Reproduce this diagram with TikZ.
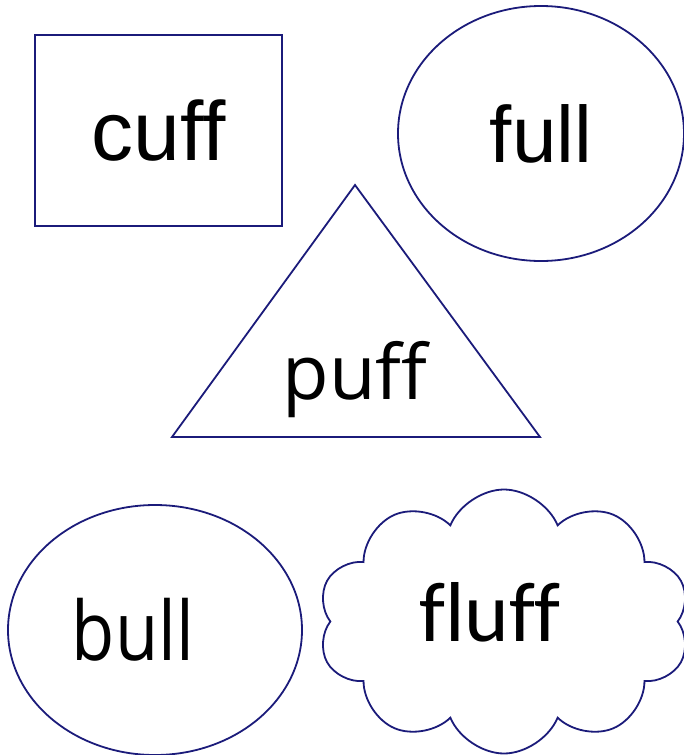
\documentclass[tikz,border=0pt]{standalone}
\usepackage{fontspec}
\usepackage{tikz}
\usetikzlibrary{shapes, positioning}
\setmainfont{Liberation Sans}[Ligatures=NoCommon]
\newfontfamily\opensans{Open Sans}[Ligatures=NoCommon]
\newfontfamily\carlito{Carlito}[Ligatures=NoCommon]
\definecolor{ShapeNavy}{HTML}{1B1B7A}

\begin{document}
\begin{tikzpicture}[
			x=1pt, y=-1pt,
			outline/.style={draw=ShapeNavy, line width=1.8pt, inner sep=0pt},
			word/.style={font=\fontsize{80}{80}\selectfont, text=black, inner sep=0pt}
			]
			\useasboundingbox (0,0) rectangle (684,755);
			% Nodes
			\node (cuff) [outline, rectangle, minimum width=247, minimum height=191, word, font=\fontsize{84}{84}\selectfont] at (158.5,130.5) {cuff};
			\node (full) [outline, ellipse, minimum width=286, minimum height=255, word] at (541,133.5) {full};
			\node (bull) [outline, ellipse, minimum width=294, minimum height=250] at (155,630) {};
			\node (fluff) [outline, cloud, cloud puffs=10, cloud puff arc=135, aspect=1.45, minimum width=372, minimum height=264] at (504,621.5) {};
			
			% Triangle
			\draw[outline, line join=miter] (355,185) -- (540,437) -- (172,437) -- cycle;
			
			% Texts
			\node (puffword) [word, font=\opensans\fontsize{76}{76}\selectfont] at (355,380) {puff};
			\node (bullword) [word, font=\opensans\fontsize{82}{82}\selectfont, xscale=0.86, transform shape] at (133,630) {bull};
			\node (fluffword) [word, font=\carlito\fontsize{85}{85}\selectfont] at (490,612.5) {fluff};
			
			
		\end{tikzpicture}
\end{document}
